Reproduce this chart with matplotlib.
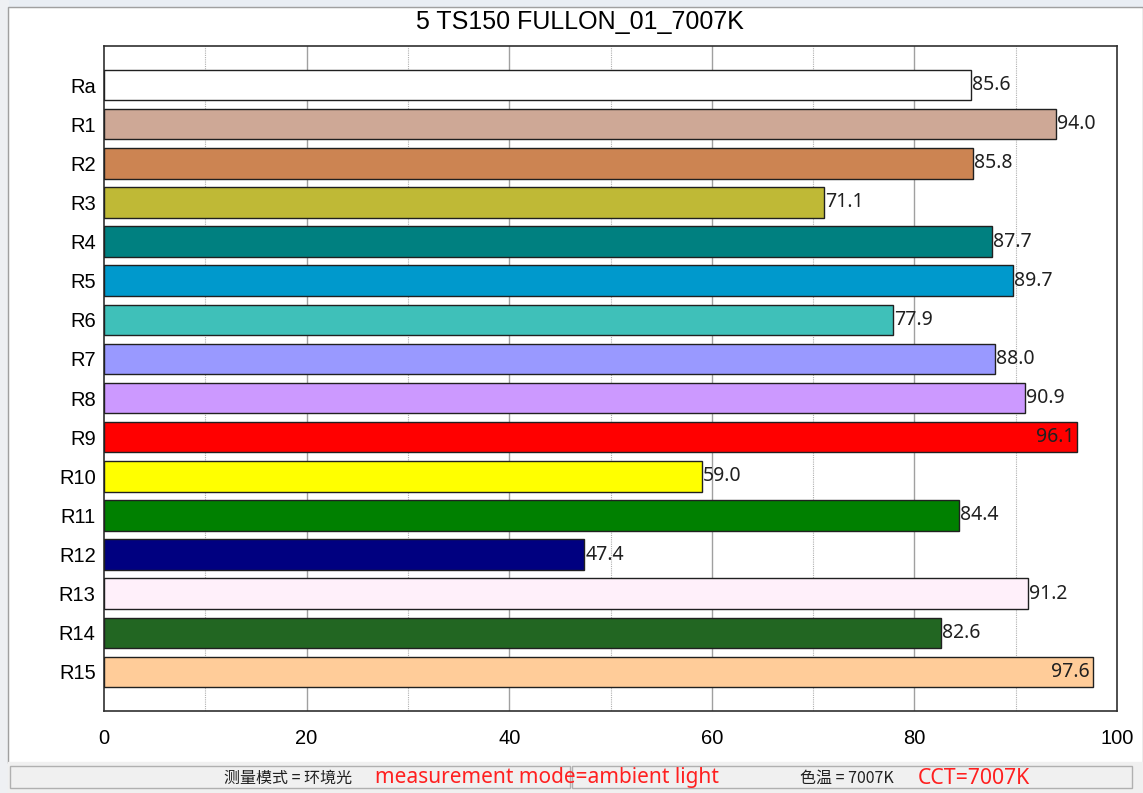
import matplotlib
matplotlib.use("Agg")
import matplotlib.pyplot as plt
from matplotlib.patches import Rectangle

plt.rcParams['font.family'] = ['Liberation Sans', 'Noto Sans CJK SC', 'DejaVu Sans']

title = "5 TS150 FULLON_01_7007K"
names = ["Ra", "R1", "R2", "R3", "R4", "R5", "R6", "R7",
         "R8", "R9", "R10", "R11", "R12", "R13", "R14", "R15"]
values = [85.6, 94.0, 85.8, 71.1, 87.7, 89.7, 77.9, 88.0,
          90.9, 96.1, 59.0, 84.4, 47.4, 91.2, 82.6, 97.6]
colors = ["#ffffff", "#cea896", "#cc8452", "#bfb936", "#008080", "#0099cc",
          "#3fc0b9", "#9999ff", "#cc99ff", "#ff0000", "#ffff00", "#008000",
          "#000080", "#fff0fa", "#226622", "#ffcc99"]
# values drawn inside the bar end instead of after it
inside = ["R9", "R15"]

status_mode = "测量模式 = 环境光"
status_mode_en = "measurement mode=ambient light"
status_cct = "色温 = 7007K"
status_cct_en = "CCT=7007K"

W, H = 1143, 793
fig = plt.figure(figsize=(W / 100, H / 100), dpi=100)
fig.patch.set_facecolor("white")

# window frame around the chart
frame = fig.add_axes([0, 0, 1, 1], zorder=-5)
frame.set_xlim(0, W)
frame.set_ylim(H, 0)
frame.axis("off")
frame.add_patch(Rectangle((0, 0), W, 7, color="#e9eef4"))
frame.add_patch(Rectangle((0, 0), 8, H, color="#eef0f3"))
frame.add_patch(Rectangle((8, 7), W - 8, 756, fill=False, ec="#a0a0a0", lw=1))
# status bar
frame.add_patch(Rectangle((8, 762), W - 8, H - 762, color="#f0f0f0"))
frame.add_patch(Rectangle((10, 766), 560, 22, fc="#f0f0f0", ec="#b0b0b0", lw=1))
frame.add_patch(Rectangle((572, 766), 560, 22, fc="#f0f0f0", ec="#b0b0b0", lw=1))
frame.text(224, 778, status_mode, fontsize=11.5, color="#202020", va="center",
           family=['Noto Sans CJK SC', 'DejaVu Sans'])
frame.text(375, 778, status_mode_en, fontsize=15, color="#ff2020", va="center",
           family=['Noto Sans', 'DejaVu Sans'])
frame.text(800, 778, status_cct, fontsize=11.5, color="#202020", va="center",
           family=['Noto Sans CJK SC', 'DejaVu Sans'])
frame.text(918, 778, status_cct_en, fontsize=15.3, color="#ff2020", va="center",
           family=['Noto Sans', 'DejaVu Sans'])

ax = fig.add_axes([104 / W, 1 - 711 / H, (1117 - 104) / W, (711 - 46) / H])
pos = list(range(len(names)))
ax.barh(pos, values, height=0.78, color=colors, edgecolor="#202020",
        linewidth=1, zorder=3)
ax.set_xlim(0, 100)
ax.set_ylim(len(names), -1)
ax.set_yticks(pos)
ax.set_yticklabels(names, fontsize=14.5)
ax.set_xticks([0, 20, 40, 60, 80, 100])
ax.tick_params(axis="x", labelsize=14.5, length=0, pad=13)
ax.tick_params(axis="y", length=0, pad=6)
for x in [20, 40, 60, 80]:
    ax.axvline(x, color="#a0a0a0", lw=1, zorder=1)
for x in [10, 30, 50, 70, 90]:
    ax.axvline(x, color="#b0b0b0", lw=0.8, ls=(0, (1, 1)), zorder=1)
for s in ax.spines.values():
    s.set_color("#303030")
    s.set_linewidth(1.2)

for p, n, v in zip(pos, names, values):
    if n in inside:
        ax.text(v - 0.3, p, f"{v:.1f}", ha="right", va="center",
                fontsize=14, color="#202020", zorder=4, family=['Noto Sans'])
    else:
        ax.text(v + 0.1, p, f"{v:.1f}", ha="left", va="center",
                fontsize=14, color="#202020", zorder=4, family=['Noto Sans'])

fig.text(580 / W, 1 - 22 / H, title, ha="center", va="center", fontsize=18)

fig.savefig("out.png", dpi=100)
